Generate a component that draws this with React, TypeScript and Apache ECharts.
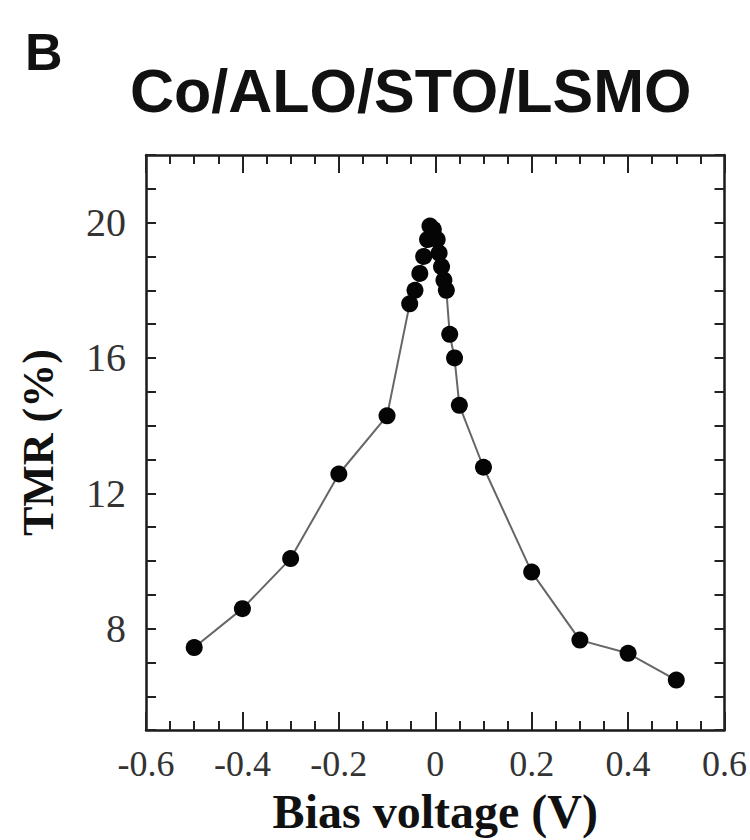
import React, { useEffect, useRef } from "react";
import * as echarts from "echarts";

// Bias voltage (V)
const biasV = [
  -0.5, -0.4, -0.3, -0.2, -0.1,
  -0.053, -0.042, -0.032, -0.024, -0.016, -0.011, -0.004,
  0.004, 0.008, 0.013, 0.018, 0.023, 0.03, 0.04, 0.05,
  0.1, 0.2, 0.3, 0.4, 0.5,
];
// TMR (%)
const tmr = [
  7.44, 8.59, 10.07, 12.57, 14.29,
  17.6, 18.0, 18.5, 19.0, 19.5, 19.9, 19.8,
  19.5, 19.1, 18.7, 18.3, 18.0, 16.7, 16.0, 14.6,
  12.77, 9.67, 7.66, 7.27, 6.48,
];
const yLabelValues = [8, 12, 16, 20];
const panelLetter = "B";
const titleText = "Co/ALO/STO/LSMO";
const xName = "Bias voltage (V)";
const yName = "TMR (%)";

export default function App() {
  const ref = useRef<HTMLDivElement>(null);
  useEffect(() => {
    if (!ref.current) return;
    const chart = echarts.init(ref.current, null, { renderer: "svg" });
    const serif = "'Liberation Serif', 'DejaVu Serif', serif";
    const sans = "'Liberation Sans', Arial, sans-serif";
    const frame = { lineStyle: { color: "#1a1a1a", width: 2.5 } };
    const tickStyle = { color: "#222", width: 2 };
    const xCommon = {
      type: "value" as const,
      min: -0.6,
      max: 0.6,
      interval: 0.2,
      splitLine: { show: false },
      axisLine: { show: true, onZero: false, ...frame },
      axisTick: { show: true, inside: true, length: 18, lineStyle: tickStyle },
      minorTick: { show: true, splitNumber: 4, length: 9, lineStyle: tickStyle },
      minorSplitLine: { show: false },
    };
    const yCommon = {
      type: "value" as const,
      min: 5,
      max: 22,
      interval: 1,
      splitLine: { show: false },
      axisLine: { show: true, onZero: false, ...frame },
      axisTick: { show: true, inside: true, length: 10, lineStyle: tickStyle },
    };
    chart.setOption({
      animation: false,
      backgroundColor: "#ffffff",
      grid: { left: 146, right: 25, top: 155, bottom: 108, containLabel: false },
      xAxis: [
        {
          ...xCommon,
          position: "bottom",
          name: xName,
          nameLocation: "middle",
          nameGap: 51,
          nameTextStyle: { fontFamily: serif, fontWeight: "bold", fontSize: 48, color: "#111" },
          axisLabel: {
            show: true,
            margin: 16,
            fontFamily: serif,
            fontSize: 36,
            color: "#333",
            showMinLabel: true,
            showMaxLabel: true,
            formatter: (v: number) => (Math.abs(v) < 1e-9 ? "0" : String(Math.round(v * 10) / 10)),
          },
        },
        { ...xCommon, position: "top", axisLabel: { show: false } },
      ],
      yAxis: [
        {
          ...yCommon,
          position: "left",
          name: yName,
          nameLocation: "middle",
          nameRotate: 90,
          nameGap: 86,
          nameTextStyle: { fontFamily: serif, fontWeight: "bold", fontSize: 44, color: "#111" },
          axisLabel: {
            show: true,
            margin: 20,
            fontFamily: serif,
            fontSize: 40,
            color: "#333",
            formatter: (v: number) => (yLabelValues.indexOf(Math.round(v)) >= 0 ? String(v) : ""),
          },
        },
        { ...yCommon, position: "right", axisLabel: { show: false } },
      ],
      graphic: [
        {
          type: "text",
          left: 25,
          top: 26,
          style: { text: panelLetter, font: `bold 52px ${sans}`, fill: "#111" },
        },
        {
          type: "text",
          left: 130,
          top: 60,
          style: { text: titleText, font: `bold 61px ${sans}`, fill: "#111" },
        },
      ],
      series: [
        {
          type: "line",
          data: biasV.map((x, i) => [x, tmr[i]]),
          symbol: "circle",
          symbolSize: 17,
          showSymbol: true,
          itemStyle: { color: "#050505" },
          lineStyle: { color: "#666", width: 2 },
          z: 3,
        },
      ],
    });
    return () => chart.dispose();
  }, []);
  return (
    <div
      ref={ref}
      style={{ position: "absolute", left: 0, top: 0, width: 750, height: 840 }}
    />
  );
}
